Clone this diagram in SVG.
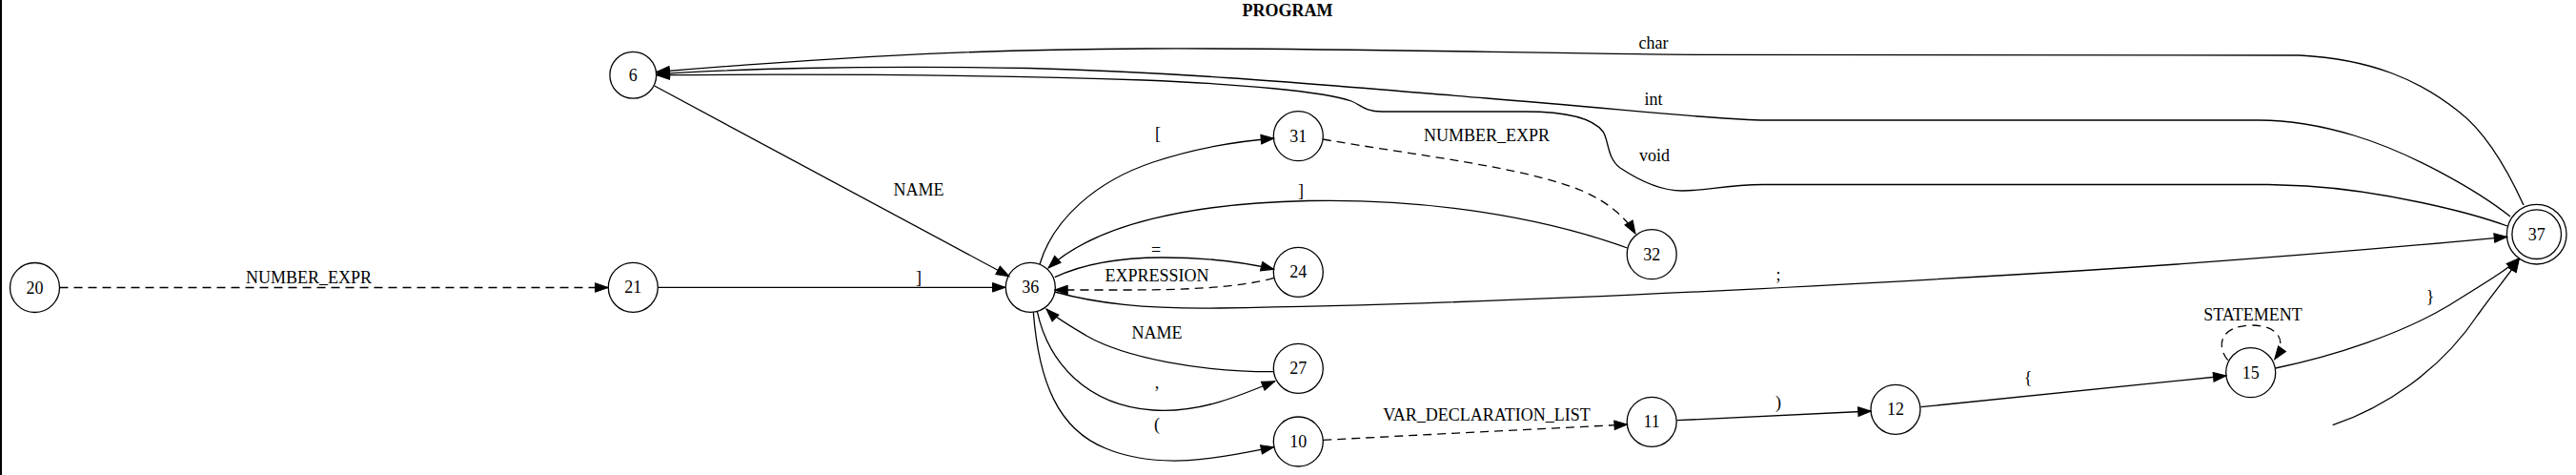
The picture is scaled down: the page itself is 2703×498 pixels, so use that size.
<svg xmlns="http://www.w3.org/2000/svg" width="2703" height="498" viewBox="0 0 2703 498">
<style>
text{font-family:"Liberation Serif","Times New Roman",serif;font-size:18px;fill:#000;text-anchor:middle}
.title{font-weight:bold}
.node{fill:none;stroke:#000;stroke-width:1.3}
.e{fill:none;stroke:#000;stroke-width:1.3;marker-end:url(#arr)}
.d{stroke-dasharray:9,6}
.noarr{marker-end:none}
</style>
<defs>
<marker id="arr" markerUnits="userSpaceOnUse" markerWidth="16" markerHeight="12" refX="13.5" refY="4.8" orient="auto" overflow="visible">
<path d="M0,0 L13.5,4.8 L0,9.6 z" fill="#000" stroke="#000" stroke-width="1"/>
</marker>
</defs>
<rect width="2703" height="498" fill="#fff"/>
<line x1="1" y1="0" x2="1" y2="498" stroke="#000" stroke-width="2"/>
<text class="title" x="1351" y="17">PROGRAM</text>

<g id="connectors">
<path class="e d" d="M62.5,301.5 L638,301.5"/>
<text x="324" y="297">NUMBER_EXPR</text>
<path class="e" d="M690.5,301.3 L1055,301.3"/>
<text x="964" y="297">]</text>
<path class="e" d="M686.7,90 L1059,289.7"/>
<text x="964" y="205">NAME</text>
<path class="e" d="M1091,277 C1105,230 1150,190 1210,170 C1255,155 1300,148 1336.7,145"/>
<text x="1215" y="146">[</text>
<path class="e d" d="M1388,146 C1480,162 1600,175 1660,200 C1690,213 1707,230 1716,245"/>
<text x="1560" y="148">NUMBER_EXPR</text>
<path class="e" d="M1707.5,260 C1620,228 1500,208 1373,210.5 C1250,213 1150,235 1100,281"/>
<text x="1365" y="206">]</text>
<path class="e" d="M1106.7,290.7 C1140,275 1180,270 1220,270 C1270,270 1310,276 1336.7,282.3"/>
<text x="1213" y="268">=</text>
<path class="e d" d="M1336.7,291.3 C1300,302 1240,304 1180,304 C1150,304 1125,304 1106.7,304"/>
<text x="1214" y="294.5">EXPRESSION</text>
<path class="e" d="M1106.7,306 C1150,318 1200,324 1280,323 C1500,320 1800,307 2180,284 C2400,270 2550,256 2630.7,248.3"/>
<text x="1866" y="294">;</text>
<path class="e" d="M1336.7,389.7 C1260,390 1180,375 1140,352 C1120,340 1106,332 1098,324"/>
<text x="1214" y="355">NAME</text>
<path class="e" d="M1088.3,326.3 C1100,380 1140,425 1210,430 C1260,433 1300,415 1337.7,399.7"/>
<text x="1214" y="407">,</text>
<path class="e" d="M1084.3,327.3 C1090,400 1110,450 1160,470 C1220,495 1290,478 1336.7,468.7"/>
<text x="1214" y="451">(</text>
<path class="e d" d="M1388.3,461.3 L1707.5,445"/>
<text x="1560" y="440.5">VAR_DECLARATION_LIST</text>
<path class="e" d="M1759.7,440.7 L1963.3,431"/>
<text x="1866" y="428">)</text>
<path class="e" d="M2015.5,426.7 L2336,394"/>
<text x="2128" y="402">{</text>
<path class="e d" d="M2337.7,377.7 C2325,362 2330,342 2361.7,341 C2392,341 2400,358 2386.7,376.7"/>
<text x="2364" y="336">STATEMENT</text>
<path class="e" d="M2387.7,386 C2450,373 2520,350 2570,320 C2605,298 2628,285 2643.3,270.7"/>
<text x="2550" y="317">}</text>
<path class="e" d="M2447.7,445.7 C2500,428 2560,390 2600,330 C2620,302 2635,285 2643.3,271.7"/>
<path class="e" d="M2648,215 C2632,180 2610,140 2580,117 C2540,85 2490,62 2413,58 L1780,57.3 C1600,56 1400,50 1200,51 C1000,52 850,62 689,75.5"/>
<text x="1735" y="51">char</text>
<path class="e" d="M2634,227 C2600,200 2530,160 2470,142 C2430,130 2400,126 2370,126 L1847,126 C1780,124 1700,114 1560,103 C1400,90 1250,76 1080,71.5 C900,68 760,73 689,77.5"/>
<text x="1735" y="110">int</text>
<path class="e" d="M2631,237 C2590,222 2500,200 2420,195 L2380,193.5 L1850,193.5 C1810,194 1790,200 1765,200 C1740,200 1715,186 1700,176 C1686,166 1688,146 1682,138 C1670,122 1640,117 1600,117 L1450,117 C1432,117 1428,110 1418,106 C1390,96 1300,88 1200,84 C1050,79 850,77.5 689,78.7"/>
<text x="1736" y="169">void</text>
</g>

<g id="n20"><circle class="node" cx="36.5" cy="301.5" r="26"/><text x="36.5" y="307.5">20</text></g>
<g id="n21"><circle class="node" cx="664.3" cy="301.3" r="26"/><text x="664.3" y="307.3">21</text></g>
<g id="n6"><circle class="node" cx="664.3" cy="78.7" r="24.4"/><text x="664.3" y="84.7">6</text></g>
<g id="n36"><circle class="node" cx="1081.3" cy="301.3" r="26"/><text x="1081.3" y="307.3">36</text></g>
<g id="n31"><circle class="node" cx="1362.3" cy="142.7" r="26"/><text x="1362.3" y="148.7">31</text></g>
<g id="n24"><circle class="node" cx="1362.3" cy="285.3" r="26"/><text x="1362.3" y="291.3">24</text></g>
<g id="n27"><circle class="node" cx="1362.3" cy="386.3" r="26"/><text x="1362.3" y="392.3">27</text></g>
<g id="n10"><circle class="node" cx="1362.3" cy="463" r="26"/><text x="1362.3" y="469">10</text></g>
<g id="n32"><circle class="node" cx="1733.2" cy="266.7" r="26"/><text x="1733.2" y="272.7">32</text></g>
<g id="n11"><circle class="node" cx="1733.2" cy="442.3" r="26"/><text x="1733.2" y="448.3">11</text></g>
<g id="n12"><circle class="node" cx="1989" cy="429.3" r="26"/><text x="1989" y="435.3">12</text></g>
<g id="n15"><circle class="node" cx="2361.7" cy="390.7" r="26"/><text x="2361.7" y="396.7">15</text></g>
<g id="n37"><circle class="node" cx="2661.7" cy="245.7" r="31.3"/><circle class="node" cx="2661.7" cy="245.7" r="25.8"/><text x="2661.7" y="251.7">37</text></g>
</svg>
